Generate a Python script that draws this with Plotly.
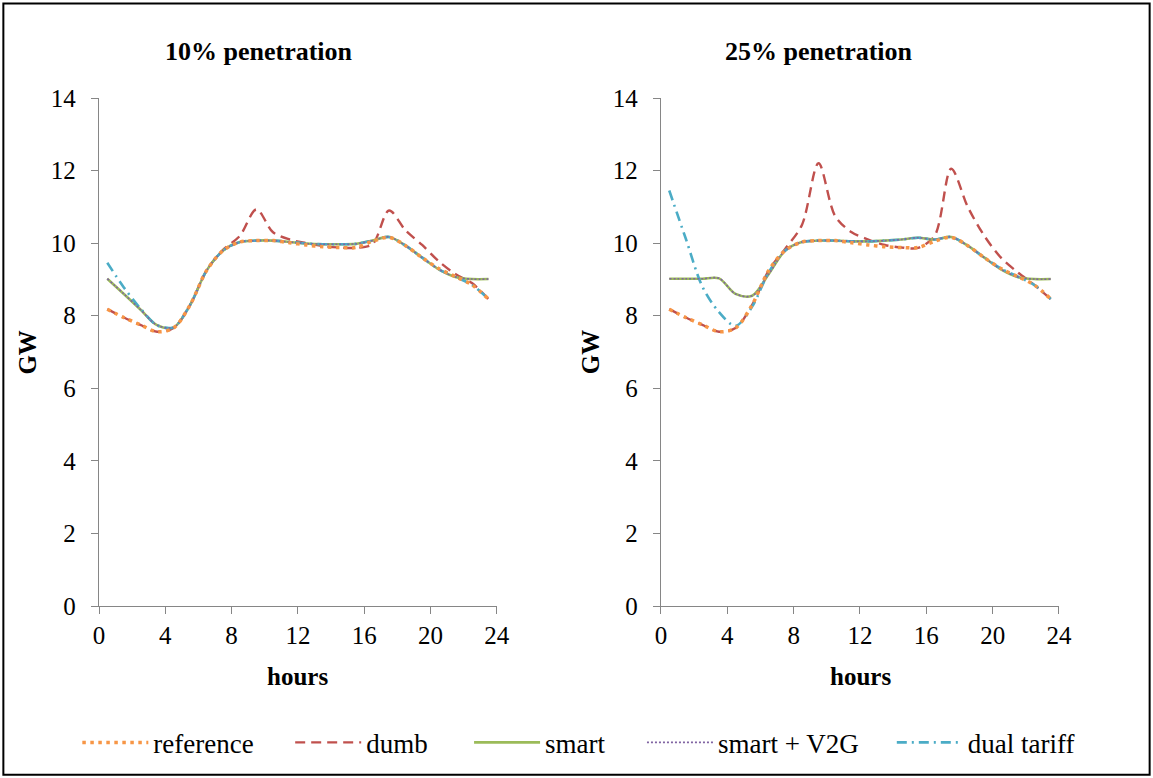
import plotly.graph_objects as go

hours = [0.5, 1.5, 2.5, 3.5, 4.5, 5.5, 6.5, 7.5, 8.5, 9.5, 10.5, 11.5,
         12.5, 13.5, 14.5, 15.5, 16.5, 17.5, 18.5, 19.5, 20.5, 21.5, 22.5, 23.5]

# 10% penetration
ref_10 = [8.18, 7.95, 7.75, 7.56, 7.66, 8.30, 9.25, 9.80, 10.03, 10.07, 10.07, 10.01,
          9.95, 9.90, 9.88, 9.88, 10.05, 10.16, 9.93, 9.60, 9.30, 9.08, 8.85, 8.46]
dumb_10 = [8.18, 7.95, 7.75, 7.56, 7.66, 8.30, 9.25, 9.82, 10.20, 10.93, 10.30, 10.10,
           10.00, 9.92, 9.88, 9.87, 9.97, 10.90, 10.35, 9.95, 9.50, 9.15, 8.90, 8.46]
smart_10 = [9.02, 8.60, 8.17, 7.74, 7.68, 8.30, 9.25, 9.80, 10.03, 10.07, 10.07, 10.03,
            9.99, 9.97, 9.97, 9.98, 10.07, 10.17, 9.93, 9.60, 9.28, 9.07, 9.01, 9.01]
v2g_10 = [9.02, 8.60, 8.17, 7.74, 7.68, 8.30, 9.25, 9.80, 10.03, 10.07, 10.07, 10.03,
          9.99, 9.97, 9.97, 9.98, 10.07, 10.17, 9.93, 9.60, 9.28, 9.07, 9.01, 9.01]
dual_10 = [9.46, 8.78, 8.20, 7.74, 7.68, 8.30, 9.25, 9.80, 10.03, 10.07, 10.07, 10.03,
           9.99, 9.97, 9.97, 9.98, 10.07, 10.17, 9.93, 9.60, 9.28, 9.07, 8.85, 8.46]

# 25% penetration
ref_25 = ref_10
dumb_25 = [8.18, 7.95, 7.75, 7.56, 7.66, 8.30, 9.25, 9.85, 10.50, 12.20, 10.75, 10.30,
           10.10, 9.95, 9.88, 9.87, 10.20, 12.05, 11.00, 10.20, 9.60, 9.20, 8.85, 8.46]
smart_25 = [9.02, 9.02, 9.02, 9.03, 8.60, 8.55, 9.15, 9.80, 10.03, 10.07, 10.07, 10.05,
            10.05, 10.07, 10.10, 10.15, 10.10, 10.17, 9.93, 9.60, 9.28, 9.07, 9.01, 9.01]
v2g_25 = smart_25
dual_25 = [11.45, 10.12, 8.80, 8.10, 7.72, 8.25, 9.20, 9.80, 10.03, 10.07, 10.07, 10.05,
           10.05, 10.07, 10.10, 10.15, 10.10, 10.17, 9.93, 9.60, 9.30, 9.08, 8.85, 8.46]

panel_titles = ["10% penetration", "25% penetration"]
series_names = ["reference", "dumb", "smart", "smart + V2G", "dual tariff"]
x_ticks = [0, 4, 8, 12, 16, 20, 24]
y_ticks = [0, 2, 4, 6, 8, 10, 12, 14]

W, H = 1153, 778
L, R, T, B = 98.7, 93.7, 97.5, 172
PW = W - L - R
PH = H - T - B

def px(x):
    return (x - L) / PW

def py(y):
    return (H - B - y) / PH

FONT = "Liberation Serif, Times New Roman, Times, serif"
colors = {"reference": "#F79646", "dumb": "#C0504D", "smart": "#9BBB59",
          "smart + V2G": "#8064A2", "dual tariff": "#4BACC6"}
styles = {"reference": dict(width=3.5, dash="3.5px,4.5px"),
          "dumb": dict(width=2.4, dash="10px,6px"),
          "smart": dict(width=2.6, dash="solid"),
          "smart + V2G": dict(width=1.6, dash="2px,2px"),
          "dual tariff": dict(width=2.6, dash="10px,5px,2px,5px")}
legend_ids = {"reference": "legend", "dumb": "legend2", "smart": "legend3",
              "smart + V2G": "legend4", "dual tariff": "legend5"}
sample_start = {"reference": 82, "dumb": 295, "smart": 474, "smart + V2G": 647, "dual tariff": 897}

data = [
    {"reference": ref_10, "dumb": dumb_10, "smart": smart_10, "smart + V2G": v2g_10, "dual tariff": dual_10},
    {"reference": ref_25, "dumb": dumb_25, "smart": smart_25, "smart + V2G": v2g_25, "dual tariff": dual_25},
]

draw_order = ["dumb", "smart", "dual tariff", "smart + V2G", "reference"]

fig = go.Figure()
for i, panel in enumerate(data):
    xa = "x" if i == 0 else "x2"
    ya = "y" if i == 0 else "y2"
    for name in draw_order:
        fig.add_trace(go.Scatter(
            x=hours, y=panel[name], mode="lines", name=name,
            line=dict(color=colors[name], shape="spline", smoothing=0.9, **styles[name]),
            xaxis=xa, yaxis=ya, showlegend=(i == 0),
            legend=legend_ids[name], hoverinfo="skip",
        ))

axis_common = dict(
    showline=True, linecolor="#868686", linewidth=1.3,
    ticks="outside", tickcolor="#868686", ticklen=7, tickwidth=1.3,
    showgrid=False, zeroline=False,
    tickfont=dict(family=FONT, size=25, color="black"),
)
xl = (496.7 - L) / PW
xr = (661 - L) / PW
fig.update_layout(
    xaxis=dict(domain=[0, xl], range=[0, 24], tickvals=x_ticks, anchor="y", **axis_common),
    xaxis2=dict(domain=[xr, 1], range=[0, 24], tickvals=x_ticks, anchor="y2", **axis_common),
    yaxis=dict(domain=[0, 1], range=[0, 14], tickvals=y_ticks, anchor="x",
               ticklabelstandoff=10, **axis_common),
    yaxis2=dict(domain=[0, 1], range=[0, 14], tickvals=y_ticks, anchor="x2",
                ticklabelstandoff=10, **axis_common),
)

annotations = []
for cx, t in zip([258.5, 819.5], panel_titles):
    annotations.append(dict(x=px(cx), y=py(51), xref="paper", yref="paper", text="<b>%s</b>" % t,
                            showarrow=False, font=dict(family=FONT, size=26, color="black"),
                            xanchor="center", yanchor="middle"))
for cx in [27, 590]:
    annotations.append(dict(x=px(cx), y=py(352), xref="paper", yref="paper", text="<b>GW</b>",
                            textangle=-90, showarrow=False, font=dict(family=FONT, size=25, color="black"),
                            xanchor="center", yanchor="middle"))
for cx in [297.7, 860.2]:
    annotations.append(dict(x=px(cx), y=py(677), xref="paper", yref="paper", text="<b>hours</b>",
                            showarrow=False, font=dict(family=FONT, size=25, color="black"),
                            xanchor="center", yanchor="middle"))

legends = {}
for name in series_names:
    legends[legend_ids[name]] = dict(
        x=px(sample_start[name] - 5), y=py(743), xanchor="left", yanchor="middle",
        orientation="h", itemwidth=66, bgcolor="rgba(0,0,0,0)", borderwidth=0,
        font=dict(family=FONT, size=27, color="black"),
    )

fig.update_layout(
    width=W, height=H,
    margin=dict(l=L, r=R, t=T, b=B, autoexpand=False),
    paper_bgcolor="white", plot_bgcolor="white",
    annotations=annotations,
    shapes=[dict(type="rect", xref="paper", yref="paper", x0=px(3), x1=px(1150), y0=py(775), y1=py(3),
                 line=dict(color="black", width=2), fillcolor="rgba(0,0,0,0)", layer="below")],
    **legends,
)

fig.write_html("out.html")
